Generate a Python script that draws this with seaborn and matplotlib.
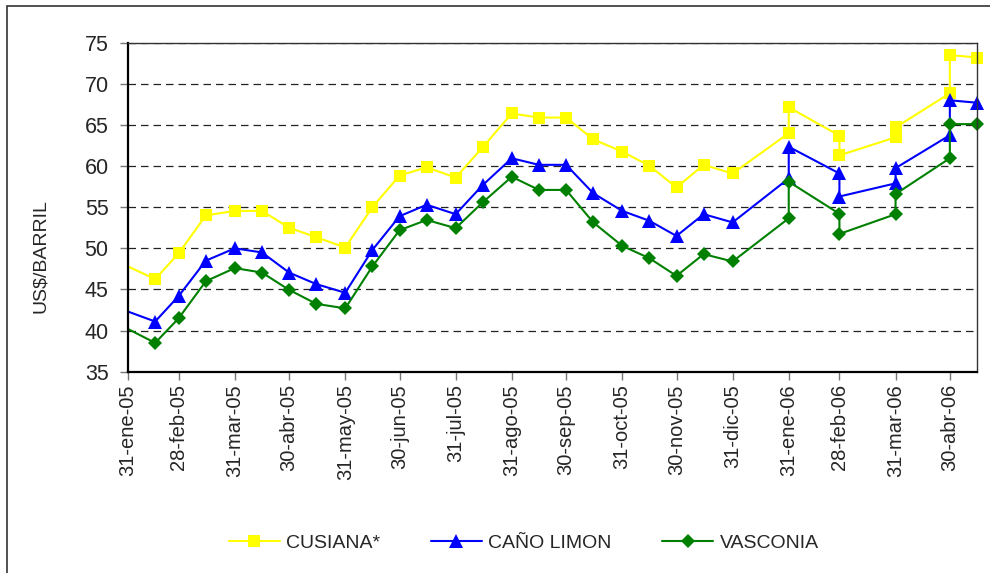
import matplotlib
matplotlib.use("Agg")
import matplotlib.pyplot as plt
from matplotlib.patches import Rectangle
from matplotlib.transforms import Bbox, TransformedBbox
import numpy as np
import pandas as pd
import seaborn as sns

# fechas de cotizacion (quincenal en 2005, doble valor a fin de mes en 2006)
fechas = [
    "2005-01-15", "2005-02-15", "2005-02-28", "2005-03-15", "2005-03-31",
    "2005-04-15", "2005-04-30", "2005-05-15", "2005-05-31", "2005-06-15",
    "2005-06-30", "2005-07-15", "2005-07-31", "2005-08-15", "2005-08-31",
    "2005-09-15", "2005-09-30", "2005-10-15", "2005-10-31", "2005-11-15",
    "2005-11-30", "2005-12-15", "2005-12-31", "2006-01-31", "2006-01-31",
    "2006-02-28", "2006-02-28", "2006-03-31", "2006-03-31", "2006-04-30",
    "2006-04-30", "2006-05-15",
]
cusiana = [
    49.45, 46.25, 49.4, 54.0, 54.55, 54.55, 52.5, 51.35, 50.1, 55.0,
    58.85, 59.85, 58.6, 62.3, 66.4, 65.9, 65.9, 63.25, 61.75, 60.05,
    57.4, 60.15, 59.1, 64.0, 67.15, 63.7, 61.3, 63.5, 64.7, 68.85,
    73.5, 73.2,
]
cano_limon = [
    43.6, 41.1, 44.2, 48.5, 50.0, 49.5, 47.05, 45.65, 44.6, 49.8,
    53.9, 55.3, 54.15, 57.7, 60.95, 60.15, 60.15, 56.7, 54.55, 53.35,
    51.5, 54.15, 53.15, 58.5, 62.35, 59.1, 56.3, 57.9, 59.75, 63.75,
    68.0, 67.7,
]
vasconia = [
    42.0, 38.5, 41.5, 46.0, 47.6, 47.05, 44.95, 43.25, 42.7, 47.8,
    52.2, 53.45, 52.45, 55.6, 58.7, 57.1, 57.1, 53.15, 50.3, 48.8,
    46.65, 49.3, 48.4, 53.65, 58.1, 54.2, 51.75, 54.15, 56.6, 60.95,
    65.1, 65.1,
]
series = ["CUSIANA*", "CAÑO LIMON", "VASCONIA"]

tick_fechas = [
    "2005-01-31", "2005-02-28", "2005-03-31", "2005-04-30", "2005-05-31",
    "2005-06-30", "2005-07-31", "2005-08-31", "2005-09-30", "2005-10-31",
    "2005-11-30", "2005-12-31", "2006-01-31", "2006-02-28", "2006-03-31",
    "2006-04-30",
]
tick_labels = [
    "31-ene-05", "28-feb-05", "31-mar-05", "30-abr-05", "31-may-05",
    "30-jun-05", "31-jul-05", "31-ago-05", "30-sep-05", "31-oct-05",
    "30-nov-05", "31-dic-05", "31-ene-06", "28-feb-06", "31-mar-06",
    "30-abr-06",
]

colores = {"CUSIANA*": "#FFFF00", "CAÑO LIMON": "#0000FF", "VASCONIA": "#008000"}
marcadores = {"CUSIANA*": "s", "CAÑO LIMON": "^", "VASCONIA": "D"}
tamanos = {"CUSIANA*": 9, "CAÑO LIMON": 10, "VASCONIA": 7.5}

rows = []
for nombre, valores in zip(series, [cusiana, cano_limon, vasconia]):
    for f, v in zip(fechas, valores):
        rows.append({"fecha": pd.Timestamp(f), "precio": v, "crudo": nombre})
df = pd.DataFrame(rows)

sns.set_style("white")
plt.rcParams["font.family"] = ["Liberation Sans", "DejaVu Sans"]

fig = plt.figure(figsize=(9.9, 5.73), dpi=100)
ax = fig.add_axes([128 / 990, 1 - 371.7 / 573, (977 - 128) / 990, (371.7 - 42.7) / 573])

sns.lineplot(
    data=df, x="fecha", y="precio", hue="crudo", style="crudo",
    hue_order=series, style_order=series, palette=colores, markers=marcadores,
    dashes=False, estimator=None, sort=False, linewidth=1.5,
    markeredgewidth=0, ax=ax,
)
ax.get_legend().remove()

# deja ver entero el ultimo marcador del borde derecho
clip = TransformedBbox(Bbox([[0, -0.05], [1.03, 1.05]]), ax.transAxes)
for line, nombre in zip(ax.lines[:3], series):
    line.set_markersize(tamanos[nombre])
    line.set_markeredgecolor(colores[nombre])
    line.set_markerfacecolor(colores[nombre])
    line.set_clip_box(clip)

ax.set_xlim(pd.Timestamp("2005-01-31"), pd.Timestamp("2006-05-15"))
ax.set_ylim(35, 75)
ax.set_yticks(np.arange(35, 76, 5))
ax.set_xticks(pd.to_datetime(tick_fechas))
ax.set_xticklabels(tick_labels, rotation=90, va="top", ha="center")
ax.set_xlabel("")
ax.set_ylabel("")

ax.grid(axis="y", color="#222222", linestyle=(0, (6, 4)), linewidth=0.9)
ax.grid(axis="x", visible=False)
ax.tick_params(axis="y", direction="out", length=6, width=1, color="#777777",
               labelsize=15.5, pad=8, left=True)
ax.tick_params(axis="x", direction="out", length=6, width=1, color="#777777",
               labelsize=14.5, pad=3, bottom=True)

for lado in ["left", "bottom"]:
    ax.spines[lado].set_color("black")
    ax.spines[lado].set_linewidth(1.6)
for lado in ["top", "right"]:
    ax.spines[lado].set_color("#333333")
    ax.spines[lado].set_linewidth(1.0)

fig.text(40 / 990, 1 - 256 / 573, "US$/BARRIL", rotation=90, ha="center", va="center",
         fontsize=14)

fig.legend(
    ax.lines[:3], series, loc="center", bbox_to_anchor=(524 / 990, 1 - 543 / 573),
    ncol=3, frameon=False, handlelength=2.6, handletextpad=0.35, columnspacing=2.6,
    prop={"size": 14},
)

fig.add_artist(Rectangle((7 / 990, -0.1), 1.2, 1.1 - 6 / 573, transform=fig.transFigure,
                         fill=False, edgecolor="#333333", linewidth=1.2))

fig.savefig("out.png", dpi=100)
